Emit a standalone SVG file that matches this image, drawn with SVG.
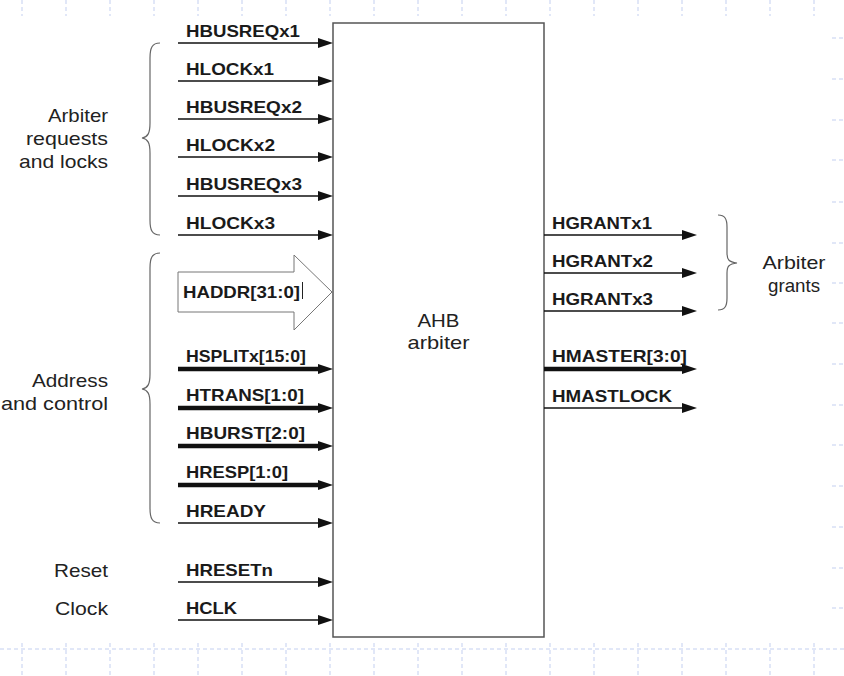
<svg xmlns="http://www.w3.org/2000/svg" width="844" height="676" viewBox="0 0 844 676">
<defs>
<style>
.grid{stroke:#c3cff0;stroke-width:1;stroke-dasharray:4,3;fill:none}
.sig{stroke:#111;stroke-width:1.3;fill:none}
.bus{stroke:#111;stroke-width:4.5;fill:none}
.lbl{font-family:"Liberation Sans",Arial,sans-serif;font-weight:bold;font-size:16.5px;fill:#1a1a1a}
.txt{font-family:"Liberation Sans",Arial,sans-serif;font-size:18.5px;fill:#222}
.brace{stroke:#666;stroke-width:1.2;fill:none}
</style>
<marker id="ah" markerUnits="userSpaceOnUse" markerWidth="15" markerHeight="10" viewBox="0 0 15 10" refX="4" refY="5" orient="auto">
<path d="M0,0 L15,5 L0,10 z" fill="#111"/>
</marker>
</defs>
<rect width="844" height="676" fill="#fff"/>
<g id="grid">
<path class="grid" d="M22,0V16M66,0V16M110,0V16M154,0V16M198,0V16M242,0V16M286,0V16M330,0V16M374,0V16M418,0V16M462,0V16M506,0V16M550,0V16M594,0V16M638,0V16M682,0V16M726,0V16M770,0V16M814,0V16"/>
<path class="grid" d="M22,643V676M66,643V676M110,643V676M154,643V676M198,643V676M242,643V676M286,643V676M330,643V676M374,643V676M418,643V676M462,643V676M506,643V676M550,643V676M594,643V676M638,643V676M682,643V676M726,643V676M770,643V676M814,643V676"/>
<path class="grid" d="M0,649H844"/>
<path class="grid" d="M832,38H844M832,79H844M832,120H844M832,160H844M832,202H844M832,243H844M832,283H844M832,323H844M832,364H844M832,405H844M832,445H844M832,486H844M832,527H844M832,568H844M832,608H844"/>
</g>
<g id="arbiter">
<rect x="333" y="23" width="211" height="614" fill="#fff" stroke="#555" stroke-width="1.5"/>
<text class="txt" x="438.5" y="327" text-anchor="middle" textLength="42" lengthAdjust="spacingAndGlyphs">AHB</text>
<text class="txt" x="438.5" y="349" text-anchor="middle" textLength="62" lengthAdjust="spacingAndGlyphs">arbiter</text>
</g>
<g id="connectors">
<path class="sig" d="M178,43H322" marker-end="url(#ah)"/>
<path class="sig" d="M178,81H322" marker-end="url(#ah)"/>
<path class="sig" d="M178,119H322" marker-end="url(#ah)"/>
<path class="sig" d="M178,157H322" marker-end="url(#ah)"/>
<path class="sig" d="M178,196H322" marker-end="url(#ah)"/>
<path class="sig" d="M178,235H322" marker-end="url(#ah)"/>
<path class="bus" d="M178,369H322" marker-end="url(#ah)"/>
<path class="bus" d="M178,408H322" marker-end="url(#ah)"/>
<path class="bus" d="M178,446H322" marker-end="url(#ah)"/>
<path class="bus" d="M178,485H322" marker-end="url(#ah)"/>
<path class="sig" d="M178,523H322" marker-end="url(#ah)"/>
<path class="sig" d="M178,582H322" marker-end="url(#ah)"/>
<path class="sig" d="M178,620H322" marker-end="url(#ah)"/>
<path class="sig" d="M544,235H686" marker-end="url(#ah)"/>
<path class="sig" d="M544,273H686" marker-end="url(#ah)"/>
<path class="sig" d="M544,311H686" marker-end="url(#ah)"/>
<path class="bus" d="M544,369H686" marker-end="url(#ah)"/>
<path class="sig" d="M544,408H686" marker-end="url(#ah)"/>
</g>
<g id="haddr">
<polygon points="178,272 294,272 294,255 332,292 294,330 294,312 178,312" fill="#fff" stroke="#777" stroke-width="1"/>
<text class="lbl" x="183" y="298" textLength="117" lengthAdjust="spacingAndGlyphs">HADDR[31:0]</text>
<line x1="302.5" y1="282" x2="302.5" y2="299" stroke="#222" stroke-width="1"/>
</g>
<g id="inputs">
<text class="lbl" x="186" y="37" textLength="114" lengthAdjust="spacingAndGlyphs">HBUSREQx1</text>
<text class="lbl" x="186" y="75" textLength="88" lengthAdjust="spacingAndGlyphs">HLOCKx1</text>
<text class="lbl" x="186" y="113" textLength="116" lengthAdjust="spacingAndGlyphs">HBUSREQx2</text>
<text class="lbl" x="186" y="151" textLength="89" lengthAdjust="spacingAndGlyphs">HLOCKx2</text>
<text class="lbl" x="186" y="190" textLength="116" lengthAdjust="spacingAndGlyphs">HBUSREQx3</text>
<text class="lbl" x="186" y="229" textLength="89" lengthAdjust="spacingAndGlyphs">HLOCKx3</text>
<text class="lbl" x="186" y="362" textLength="120" lengthAdjust="spacingAndGlyphs">HSPLITx[15:0]</text>
<text class="lbl" x="186" y="401" textLength="118" lengthAdjust="spacingAndGlyphs">HTRANS[1:0]</text>
<text class="lbl" x="186" y="439" textLength="119" lengthAdjust="spacingAndGlyphs">HBURST[2:0]</text>
<text class="lbl" x="186" y="478" textLength="102" lengthAdjust="spacingAndGlyphs">HRESP[1:0]</text>
<text class="lbl" x="186" y="517" textLength="80" lengthAdjust="spacingAndGlyphs">HREADY</text>
<text class="lbl" x="186" y="576" textLength="87" lengthAdjust="spacingAndGlyphs">HRESETn</text>
<text class="lbl" x="186" y="614" textLength="51" lengthAdjust="spacingAndGlyphs">HCLK</text>
</g>
<g id="outputs">
<text class="lbl" x="552" y="229" textLength="100" lengthAdjust="spacingAndGlyphs">HGRANTx1</text>
<text class="lbl" x="552" y="267" textLength="101" lengthAdjust="spacingAndGlyphs">HGRANTx2</text>
<text class="lbl" x="552" y="305" textLength="101" lengthAdjust="spacingAndGlyphs">HGRANTx3</text>
<text class="lbl" x="552" y="362" textLength="135" lengthAdjust="spacingAndGlyphs">HMASTER[3:0]</text>
<text class="lbl" x="552" y="402" textLength="120" lengthAdjust="spacingAndGlyphs">HMASTLOCK</text>
</g>
<g id="group-requests">
<path class="brace" d="M160,43 C152,43 150,48 150,58 L150,123 C150,133 148,137 142,138 C148,139 150,143 150,153 L150,220 C150,230 152,235 160,235"/>
<text class="txt" x="108" y="122" text-anchor="end" textLength="60" lengthAdjust="spacingAndGlyphs">Arbiter</text>
<text class="txt" x="108" y="145" text-anchor="end" textLength="82" lengthAdjust="spacingAndGlyphs">requests</text>
<text class="txt" x="108" y="168" text-anchor="end" textLength="89" lengthAdjust="spacingAndGlyphs">and locks</text>
</g>
<g id="group-address">
<path class="brace" d="M160,253 C152,253 150,258 150,268 L150,374 C150,384 148,388 142,389 C148,390 150,394 150,404 L150,508 C150,518 152,523 160,523"/>
<text class="txt" x="108" y="387" text-anchor="end" textLength="76" lengthAdjust="spacingAndGlyphs">Address</text>
<text class="txt" x="108" y="410" text-anchor="end" textLength="107" lengthAdjust="spacingAndGlyphs">and control</text>
</g>
<g id="group-reset">
<text class="txt" x="108" y="577" text-anchor="end" textLength="54" lengthAdjust="spacingAndGlyphs">Reset</text>
</g>
<g id="group-clock">
<text class="txt" x="108" y="615" text-anchor="end" textLength="53" lengthAdjust="spacingAndGlyphs">Clock</text>
</g>
<g id="group-grants">
<path class="brace" d="M718,215 C725,215 727,219 727,227 L727,253 C727,260 729,262 737,263 C729,264 727,266 727,273 L727,298 C727,306 725,310 718,310"/>
<text class="txt" x="794" y="269" text-anchor="middle" textLength="63" lengthAdjust="spacingAndGlyphs">Arbiter</text>
<text class="txt" x="794" y="292" text-anchor="middle" textLength="52" lengthAdjust="spacingAndGlyphs">grants</text>
</g>
</svg>
